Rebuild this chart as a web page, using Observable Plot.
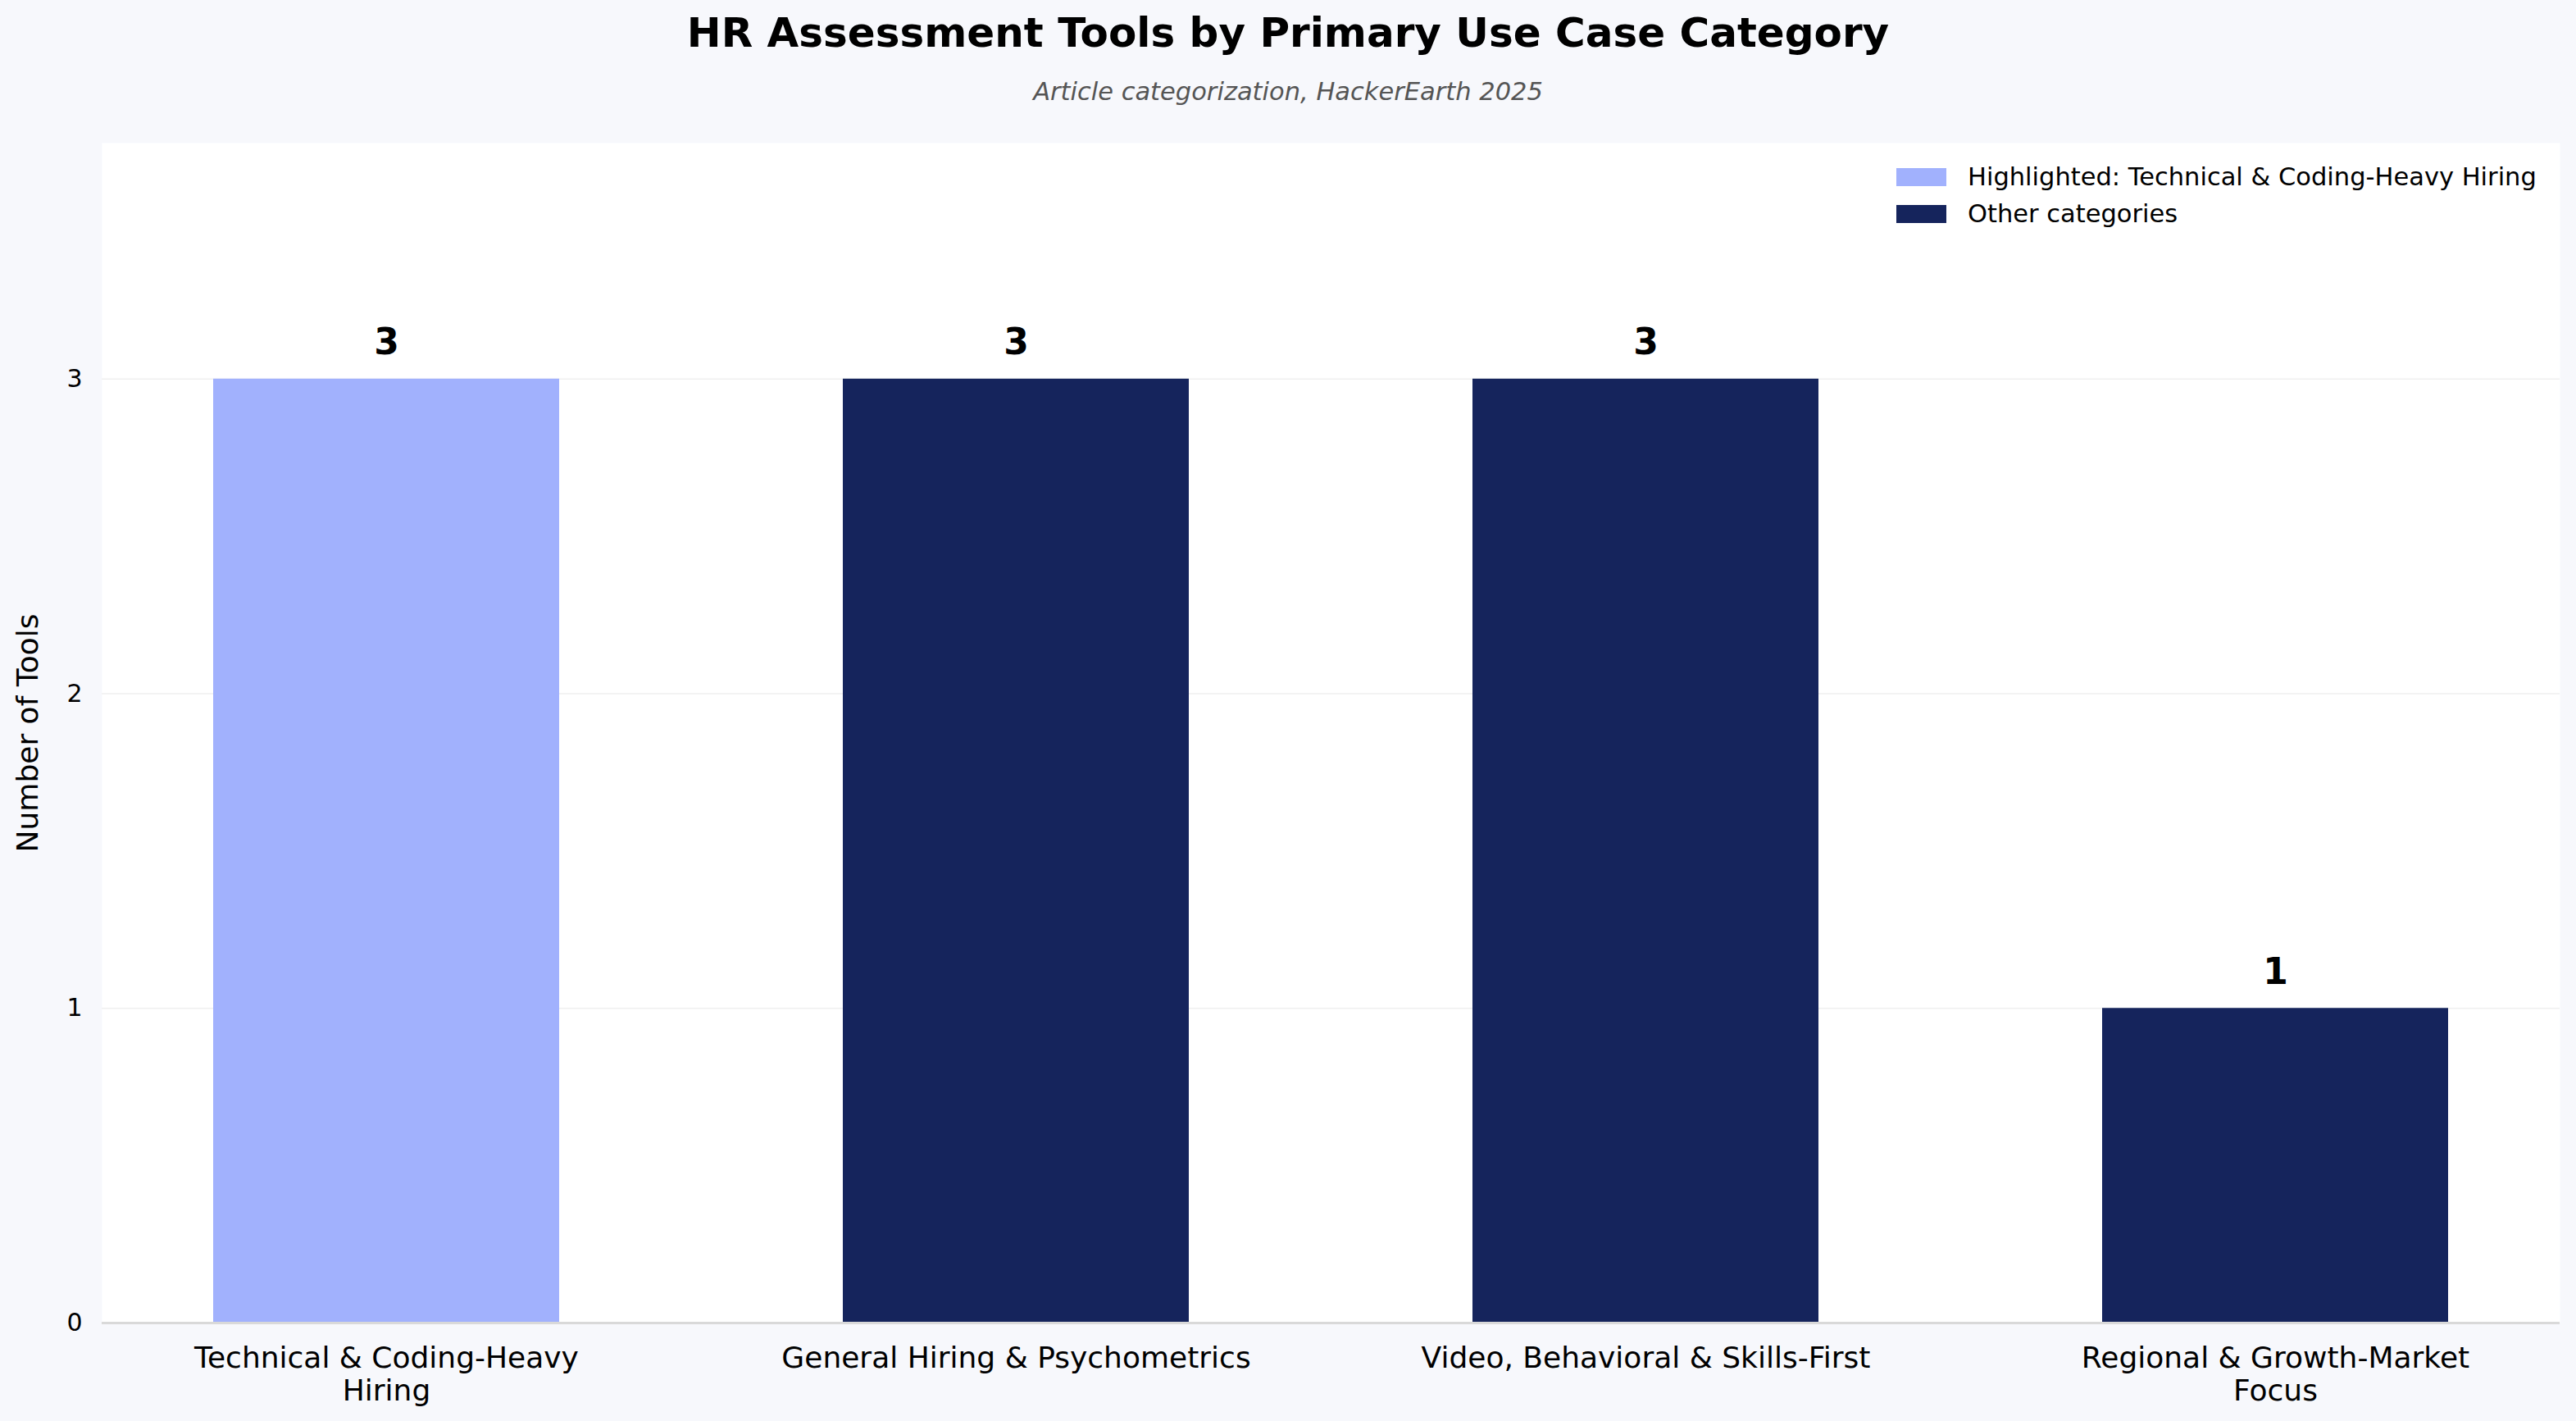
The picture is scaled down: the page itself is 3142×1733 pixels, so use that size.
<!DOCTYPE html>
<html><head><meta charset="utf-8">
<script src="https://cdn.jsdelivr.net/npm/d3@7"></script>
<script src="https://cdn.jsdelivr.net/npm/@observablehq/plot@0.6"></script>
<style>
html,body{margin:0;padding:0;background:#f7f8fc;}
body{width:3142px;height:1733px;overflow:hidden;font-family:"DejaVu Sans";}
#wrap{position:relative;width:3142px;height:1733px;}
.t{position:absolute;white-space:nowrap;}
#title{left:0;width:3142px;top:15px;text-align:center;font-weight:bold;font-size:50px;line-height:50px;color:#000;}
#subtitle{left:0;width:3142px;top:97px;text-align:center;font-style:italic;font-size:30.5px;line-height:30.5px;color:#555;}
#chart{position:absolute;left:0;top:150px;}
.sw{position:absolute;width:61px;height:22px;}
.lg{font-size:30.5px;line-height:30.5px;color:#000;}
</style>
</head><body>
<div id="wrap">
  <div class="t" id="title">HR Assessment Tools by Primary Use Case Category</div>
  <div class="t" id="subtitle">Article categorization, HackerEarth 2025</div>
  <div id="chart"></div>
  <div id="legend"></div>
</div>
<script>
const categories = ["Technical & Coding-Heavy Hiring", "General Hiring & Psychometrics", "Video, Behavioral & Skills-First", "Regional & Growth-Market Focus"];
const tickLabels = ["Technical & Coding-Heavy\nHiring", "General Hiring & Psychometrics", "Video, Behavioral & Skills-First", "Regional & Growth-Market\nFocus"];
const counts = [3, 3, 3, 1];
const groups = ["Highlighted: Technical & Coding-Heavy Hiring", "Other categories", "Other categories", "Other categories"];
const legendLabels = ["Highlighted: Technical & Coding-Heavy Hiring", "Other categories"];
const legendColors = ["#a1b1fd", "#15245c"];
const yTicks = [0, 1, 2, 3];

const data = categories.map((c, i) => ({category: c, count: counts[i], group: groups[i]}));
const labelOf = new Map(categories.map((c, i) => [c, tickLabels[i]]));

const chart = Plot.plot({
  width: 3142,
  height: 1583,
  marginTop: 24,
  marginBottom: 120,
  marginLeft: 124,
  marginRight: 20,
  style: {fontFamily: "DejaVu Sans", fontSize: "30px", background: "transparent", color: "#000"},
  x: {domain: categories, paddingInner: 0.45, paddingOuter: 0.175},
  y: {domain: [0, 3.75]},
  color: {domain: legendLabels, range: legendColors},
  marks: [
    Plot.frame({fill: "white", stroke: "none"}),
    Plot.gridY([1, 2, 3], {stroke: "#efefef", strokeOpacity: 1, strokeWidth: 1.5}),
    Plot.barY(data, {x: "category", y: "count", fill: "group"}),
    Plot.ruleY([0], {stroke: "#d9d9d9", strokeWidth: 3}),
    Plot.text(data, {x: "category", y: "count", text: d => String(d.count), dy: -30, lineAnchor: "bottom", fontSize: 44, fontWeight: "bold", fill: "#000"}),
    Plot.axisY({ticks: yTicks, tickSize: 0, tickPadding: 24, fontSize: 30, label: null, tickFormat: d3.format("d")}),
    Plot.axisX({tickSize: 0, tickPadding: 26, fontSize: 36, lineHeight: 1.11, label: null, tickFormat: d => labelOf.get(d)}),
    Plot.text(["Number of Tools"], {frameAnchor: "left", rotate: -90, dx: -90, fontSize: 36, textAnchor: "middle", lineAnchor: "middle", fill: "#000"})
  ]
});
document.getElementById("chart").appendChild(chart);

const legend = document.getElementById("legend");
legendLabels.forEach((lab, i) => {
  const sw = document.createElement("div");
  sw.className = "sw";
  sw.style.left = "2313px";
  sw.style.top = (205 + i * 45) + "px";
  sw.style.background = legendColors[i];
  legend.appendChild(sw);
  const tx = document.createElement("div");
  tx.className = "t lg";
  tx.style.left = "2400px";
  tx.style.top = (201 + i * 45) + "px";
  tx.textContent = lab;
  legend.appendChild(tx);
});
</script>
</body></html>
